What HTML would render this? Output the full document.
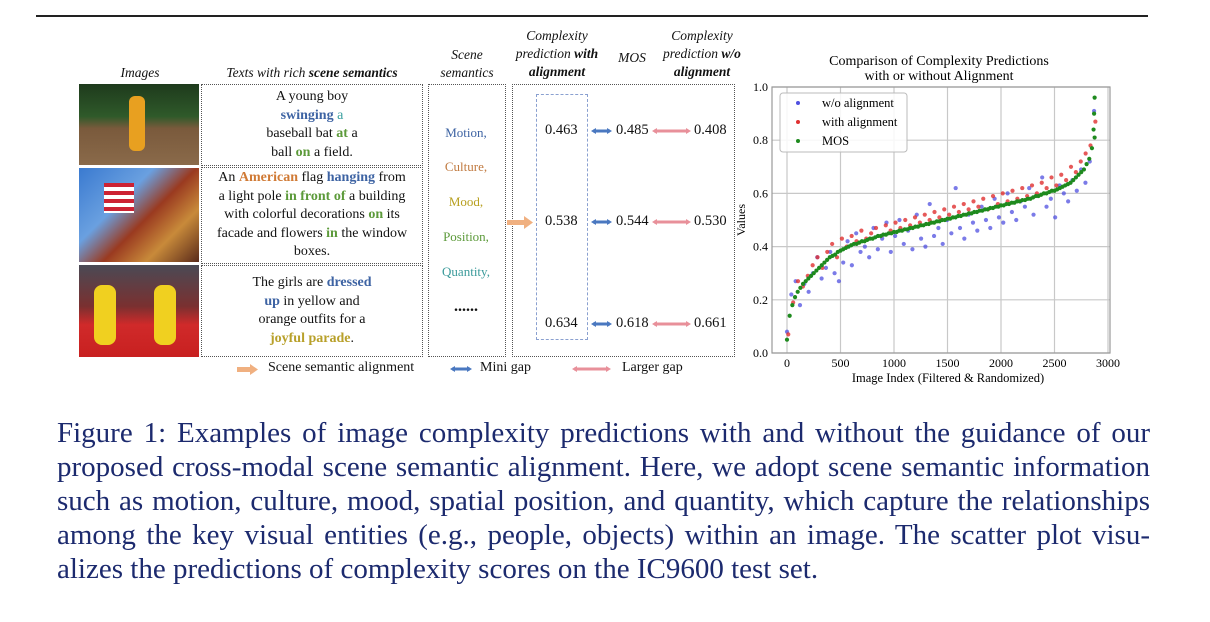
<!DOCTYPE html>
<html><head><meta charset="utf-8">
<style>
body{margin:0;width:1210px;height:622px;background:#fff;position:relative;overflow:hidden;font-family:"Liberation Serif",serif;color:#111}
.a{position:absolute}
.hd{position:absolute;font-style:italic;font-size:13.5px;text-align:center;line-height:18px}
.box{position:absolute;border:1px dotted #555;box-sizing:border-box}
.tx{font-size:14px;line-height:18.5px;text-align:center;display:flex;align-items:center;justify-content:center}
.bl{color:#3d63a3;font-weight:bold}.gr{color:#5c9a3a;font-weight:bold}.or{color:#d07a35;font-weight:bold}.yl{color:#b8a02a;font-weight:bold}
.val{position:absolute;font-size:14.5px}
.sem{position:absolute;font-size:13px;width:78px;text-align:center}
#cap{position:absolute;left:57px;top:416px;width:1093px;font-size:29px;line-height:34px;color:#1c2a6e}
#cap div{text-align:justify;text-align-last:justify;white-space:nowrap}
#cap div.last{text-align-last:left}
</style></head><body>
<div class="a" style="left:36px;top:15px;width:1112px;height:1.5px;background:#222"></div>

<div class="hd" style="left:100px;top:64px;width:80px">Images</div>
<div class="hd" style="left:200px;top:64px;width:224px">Texts with rich <b>scene semantics</b></div>
<div class="hd" style="left:428px;top:46px;width:78px">Scene<br>semantics</div>
<div class="hd" style="left:502px;top:27px;width:110px">Complexity<br>prediction <b>with</b><br><b>alignment</b></div>
<div class="hd" style="left:612px;top:49px;width:40px">MOS</div>
<div class="hd" style="left:652px;top:27px;width:100px">Complexity<br>prediction <b>w/o</b><br><b>alignment</b></div>

<div class="a" style="left:79px;top:84px;width:120px;height:81px;background:linear-gradient(180deg,#1e3a1c 0%,#2f5a2a 40%,#7a5a3c 55%,#8a6a4a 100%)"><div class="a" style="left:50px;top:12px;width:16px;height:55px;background:#e8a020;border-radius:6px"></div></div>
<div class="a" style="left:79px;top:168px;width:120px;height:94px;background:linear-gradient(135deg,#3a7ad0 0%,#6aa0e0 35%,#9a3a20 55%,#c88a3a 75%,#5a2a1a 100%)"><div class="a" style="left:25px;top:15px;width:30px;height:30px;background:repeating-linear-gradient(180deg,#c23 0 4px,#fff 4px 8px)"></div></div>
<div class="a" style="left:79px;top:265px;width:120px;height:92px;background:linear-gradient(180deg,#4a4a55 0%,#7a3030 45%,#d02a2a 65%,#c82020 100%)"><div class="a" style="left:15px;top:20px;width:22px;height:60px;background:#f0d020;border-radius:8px"></div><div class="a" style="left:75px;top:20px;width:22px;height:60px;background:#f0d020;border-radius:8px"></div></div>

<div class="box tx" style="left:201px;top:84px;width:222px;height:82px"><div>A young boy<br><span class="bl">swinging</span> <span style="color:#3aa0a0">a</span><br>baseball bat <span class="gr">at</span> a<br>ball <span class="gr">on</span> a field.</div></div>
<div class="box tx" style="left:201px;top:167px;width:222px;height:97px"><div>An <span class="or">American</span> flag <span class="bl">hanging</span> from<br>a light pole <span class="gr">in front of</span> a building<br>with colorful decorations <span class="gr">on</span> its<br>facade and flowers <span class="gr">in</span> the window<br>boxes.</div></div>
<div class="box tx" style="left:201px;top:265px;width:222px;height:92px"><div>The girls are <span class="bl">dressed</span><br><span class="bl">up</span> in yellow and<br>orange outfits for a<br><span class="yl">joyful parade</span>.</div></div>

<div class="box" style="left:428px;top:84px;width:78px;height:273px"></div>
<div class="sem" style="left:427px;top:125px;color:#3d63a3">Motion,</div>
<div class="sem" style="left:427px;top:159px;color:#c07a40">Culture,</div>
<div class="sem" style="left:427px;top:194px;color:#b8a020">Mood,</div>
<div class="sem" style="left:427px;top:229px;color:#5c9a3a">Position,</div>
<div class="sem" style="left:427px;top:264px;color:#3a9a9a">Quantity,</div>
<div class="sem" style="left:427px;top:298px;font-size:16px;font-weight:bold">......</div>

<div class="box" style="left:512px;top:84px;width:223px;height:273px"></div>
<div class="a" style="left:536px;top:94px;width:52px;height:246px;border:1px dashed #8aa0d0;box-sizing:border-box"></div>
<svg class="a" style="left:0;top:0" width="760" height="390">
<g><rect x="507" y="220" width="18" height="5" fill="#f0b080"/><path d="M524,216L533,222.5L524,229z" fill="#f0b080"/></g>
<g stroke-width="3" fill="none">
<line x1="593" y1="131" x2="610" y2="131" stroke="#4a78c0"/><line x1="654" y1="131" x2="688" y2="131" stroke="#e8909a"/>
<line x1="593" y1="222" x2="610" y2="222" stroke="#4a78c0"/><line x1="654" y1="222" x2="688" y2="222" stroke="#e8909a"/>
<line x1="593" y1="324" x2="610" y2="324" stroke="#4a78c0"/><line x1="654" y1="324" x2="688" y2="324" stroke="#e8909a"/>
<line x1="452" y1="369" x2="470" y2="369" stroke="#4a78c0"/><line x1="574" y1="369" x2="608" y2="369" stroke="#e8909a"/>
</g>
<g fill="#4a78c0"><path d="M591,131l5,-3v6z M612,131l-5,-3v6z M591,222l5,-3v6z M612,222l-5,-3v6z M591,324l5,-3v6z M612,324l-5,-3v6z M450,369l5,-3v6z M472,369l-5,-3v6z"/></g>
<g fill="#e8909a"><path d="M652,131l5,-3v6z M691,131l-5,-3v6z M652,222l5,-3v6z M691,222l-5,-3v6z M652,324l5,-3v6z M691,324l-5,-3v6z M572,369l5,-3v6z M611,369l-5,-3v6z"/></g>
<g><rect x="237" y="367" width="14" height="5" fill="#f0b080"/><path d="M250,364L258,369.5L250,375z" fill="#f0b080"/></g>
</svg>
<div class="val" style="left:545px;top:122px">0.463</div>
<div class="val" style="left:616px;top:122px">0.485</div>
<div class="val" style="left:694px;top:122px">0.408</div>
<div class="val" style="left:545px;top:213px">0.538</div>
<div class="val" style="left:616px;top:213px">0.544</div>
<div class="val" style="left:694px;top:213px">0.530</div>
<div class="val" style="left:545px;top:315px">0.634</div>
<div class="val" style="left:616px;top:315px">0.618</div>
<div class="val" style="left:694px;top:315px">0.661</div>
<div class="val" style="left:268px;top:360px;font-size:14px">Scene semantic alignment</div>
<div class="val" style="left:480px;top:360px;font-size:14px">Mini gap</div>
<div class="val" style="left:622px;top:360px;font-size:14px">Larger gap</div>

<svg class="a" id="chart" style="left:730px;top:40px" width="400" height="350"></svg>

<div id="cap">
<div>Figure 1: Examples of image complexity predictions with and without the guidance of our</div>
<div>proposed cross-modal scene semantic alignment. Here, we adopt scene semantic information</div>
<div>such as motion, culture, mood, spatial position, and quantity, which capture the relationships</div>
<div>among the key visual entities (e.g., people, objects) within an image. The scatter plot visu-</div>
<div class="last">alizes the predictions of complexity scores on the IC9600 test set.</div>
</div>

<script>
const xTicks=[0,500,1000,1500,2000,2500,3000];
const yTicks=[0.0,0.2,0.4,0.6,0.8,1.0];
const mosStep=25;
const mosY=[0.05,0.14,0.18,0.21,0.23,0.245,0.26,0.27,0.28,0.29,0.30,0.31,0.32,0.33,0.34,0.35,0.36,0.365,0.37,0.38,0.385,0.39,0.395,0.40,0.405,0.41,0.41,0.415,0.42,0.42,0.425,0.43,0.43,0.435,0.44,0.44,0.445,0.445,0.45,0.45,0.455,0.455,0.46,0.46,0.465,0.465,0.47,0.47,0.475,0.475,0.48,0.48,0.485,0.485,0.49,0.49,0.495,0.495,0.50,0.50,0.505,0.505,0.51,0.51,0.515,0.515,0.52,0.52,0.525,0.525,0.53,0.53,0.535,0.535,0.54,0.54,0.545,0.545,0.55,0.55,0.555,0.555,0.56,0.56,0.565,0.565,0.57,0.57,0.575,0.575,0.58,0.58,0.585,0.59,0.59,0.595,0.60,0.60,0.605,0.61,0.61,0.615,0.62,0.625,0.63,0.635,0.64,0.65,0.66,0.67,0.68,0.69,0.71,0.73,0.77,0.81];
const mosTailX=[2865,2870,2875];
const mosTailY=[0.84,0.90,0.96];
const woY=[0.08,0.22,0.27,0.18,0.26,0.23,0.30,0.36,0.28,0.32,0.38,0.30,0.27,0.34,0.42,0.33,0.45,0.38,0.40,0.36,0.47,0.39,0.43,0.49,0.38,0.44,0.50,0.41,0.46,0.39,0.52,0.43,0.40,0.56,0.44,0.47,0.41,0.50,0.45,0.62,0.47,0.43,0.52,0.49,0.46,0.55,0.50,0.47,0.58,0.51,0.49,0.60,0.53,0.50,0.57,0.55,0.62,0.52,0.59,0.66,0.55,0.58,0.51,0.63,0.60,0.57,0.65,0.61,0.69,0.64,0.72,0.91];
const withY=[0.07,0.19,0.27,0.25,0.29,0.33,0.36,0.32,0.38,0.41,0.36,0.43,0.40,0.44,0.42,0.46,0.43,0.45,0.47,0.44,0.48,0.46,0.49,0.47,0.50,0.48,0.51,0.49,0.52,0.50,0.53,0.51,0.54,0.52,0.55,0.53,0.56,0.54,0.57,0.55,0.58,0.54,0.59,0.56,0.60,0.57,0.61,0.58,0.62,0.59,0.63,0.60,0.64,0.62,0.66,0.63,0.67,0.65,0.70,0.68,0.72,0.75,0.78,0.87];
const xMaxIdx=2870;

const NS="http://www.w3.org/2000/svg";
const svg=document.getElementById('chart');
const L=42,R=380,T=47,B=313;
const sx=v=>57+v*(321/3000);
const sy=v=>B-v*(B-T);
function mk(t,a,p){const e=document.createElementNS(NS,t);for(const k in a)e.setAttribute(k,a[k]);(p||svg).appendChild(e);return e;}
xTicks.forEach(v=>{const l=mk('line',{x1:sx(v),x2:sx(v),y1:T,y2:B,stroke:'#c8c8c8','stroke-width':1.2});


const t=mk('text',{x:sx(v),y:B+14,'text-anchor':'middle','font-size':12,'font-family':'Liberation Serif'});t.textContent=v;

});
yTicks.forEach(v=>{const l=mk('line',{x1:L,x2:R,y1:sy(v),y2:sy(v),stroke:'#c8c8c8','stroke-width':1.2});


const t=mk('text',{x:L-4,y:sy(v)+4,'text-anchor':'end','font-size':12,'font-family':'Liberation Serif'});t.textContent=v.toFixed(1);

});
const fr=mk('rect',{x:L,y:T,width:R-L,height:B-T,fill:'none',stroke:'#999','stroke-width':1.2});


function dot(x,y,c,op){return mk('circle',{cx:sx(x),cy:sy(y),r:2.1,fill:c,'fill-opacity':op});}
woY.forEach((v,i)=>{const d=dot(i*xMaxIdx/(woY.length-1),v,'#4f4fe0',0.75);

});
withY.forEach((v,i)=>{const d=dot(i*xMaxIdx/(withY.length-1)+12,v,'#e03030',0.8);

});
mosY.forEach((v,i)=>{const d=dot(i*mosStep,v,'#1e8a1e',1);

});
mosTailX.forEach((x,i)=>{const d=dot(x,mosTailY[i],'#1e8a1e',1);

});
[['Comparison of Complexity Predictions',25],['with or without Alignment',40]].forEach(a=>{const t=mk('text',{x:209,y:a[1],'text-anchor':'middle','font-size':14,'font-family':'Liberation Serif'});t.textContent=a[0];

});
const xl=mk('text',{x:218,y:342,'text-anchor':'middle','font-size':12.5,'font-family':'Liberation Serif'});xl.textContent='Image Index (Filtered & Randomized)';


const yl=mk('text',{x:0,y:0,'text-anchor':'middle','font-size':12,'font-family':'Liberation Serif',transform:'translate(15,180) rotate(-90)'});yl.textContent='Values';


const lg=mk('rect',{x:50,y:53,width:127,height:59,fill:'#fff','fill-opacity':0.85,stroke:'#bbb',rx:3});


[['w/o alignment','#4f4fe0',67],['with alignment','#e03030',86],['MOS','#1e8a1e',105]].forEach(a=>{
const c=mk('circle',{cx:68,cy:a[2]-4,r:2,fill:a[1]});


const t=mk('text',{x:92,y:a[2],'font-size':12.5,'font-family':'Liberation Serif'});t.textContent=a[0];

});
</script>
</body></html>
